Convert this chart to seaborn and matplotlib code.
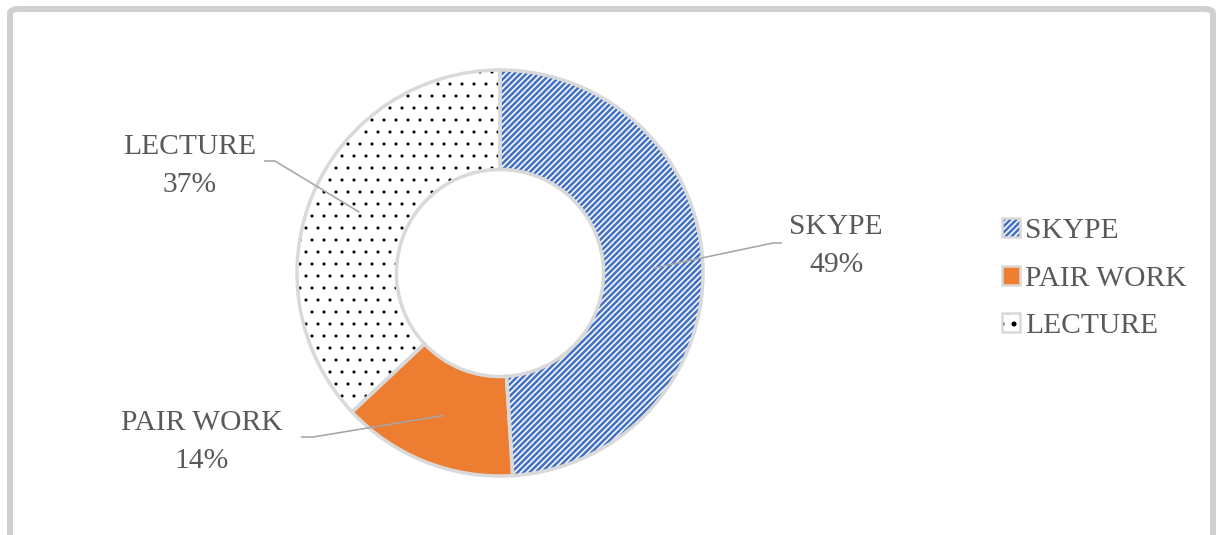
import numpy as np
import matplotlib
matplotlib.use("Agg")
import matplotlib.pyplot as plt
import seaborn as sns
from matplotlib.patches import Patch, FancyBboxPatch
from matplotlib.legend_handler import HandlerTuple

# ---- data ----
categories = ["SKYPE", "PAIR WORK", "LECTURE"]
values = [49, 14, 37]
pct_labels = ["49%", "14%", "37%"]

sns.set_theme(style="white")
plt.rcParams["font.family"] = ["Liberation Serif", "DejaVu Serif"]
plt.rcParams["hatch.linewidth"] = 2.6

DPI = 72
FS = 29.5
fig = plt.figure(figsize=(1219 / DPI, 535 / DPI), dpi=DPI)
fig.patch.set_facecolor("white")

# outer frame
frame = FancyBboxPatch((10 / 1219, -0.2), 1203 / 1219, (535 - 9) / 535 + 0.2,
                       boxstyle="round,pad=0,rounding_size=0.008",
                       transform=fig.transFigure, facecolor="none",
                       edgecolor="#d0d0d0", linewidth=6, clip_on=False)
fig.add_artist(frame)

R_PX = 203
cx, cy = 500, 273
ax = fig.add_axes([(cx - R_PX) / 1219, (535 - cy - R_PX) / 535,
                   2 * R_PX / 1219, 2 * R_PX / 535])

blue = "#4472C4"
orange = "#ED7D31"
edge_gray = "#d9d9d9"
text_col = "#595959"
line_col = "#a6a6a6"

WIDTH = 0.49
fills = [dict(facecolor="white", edgecolor=blue, hatch="////", hlw=2.6),
         dict(facecolor=orange, edgecolor=orange, hatch=None, hlw=1.0),
         dict(facecolor="white", edgecolor="black", hatch=".", hlw=0.6)]

wedges, _ = ax.pie(values, startangle=90, counterclock=False, radius=1.0,
                   wedgeprops=dict(width=WIDTH, linewidth=0))
for w, f in zip(wedges, fills):
    w.set_facecolor(f["facecolor"])
    w.set_edgecolor(f["edgecolor"])
    w.set_linewidth(0)
    if f["hatch"]:
        w.set_hatch(f["hatch"])
    if hasattr(w, "set_hatch_linewidth"):
        w.set_hatch_linewidth(f["hlw"])

# gray outlines on top
outl, _ = ax.pie(values, startangle=90, counterclock=False, radius=1.0,
                 wedgeprops=dict(width=WIDTH, facecolor="none",
                                 edgecolor=edge_gray, linewidth=3.5))

ax.set_xlim(-1, 1)
ax.set_ylim(-1, 1)
ax.set_aspect("equal")
ax.axis("off")

# labels with leader lines
def px2d(px, py):
    return ((px - cx) / R_PX, (cy - py) / R_PX)

label_pos = [px2d(836, 246), px2d(202, 442), px2d(190, 166)]
elbow = [px2d(773, 243), px2d(313, 437), px2d(275, 161)]
end = [px2d(782, 243), px2d(301, 437), px2d(264, 161)]

mid_r = 1 - WIDTH / 2
for w, cat, pl, lp, el, en in zip(wedges, categories, pct_labels, label_pos, elbow, end):
    ang = np.deg2rad((w.theta1 + w.theta2) / 2)
    ax_, ay_ = mid_r * np.cos(ang), mid_r * np.sin(ang)
    ax.plot([ax_, el[0], en[0]], [ay_, el[1], en[1]], color=line_col, lw=1.6,
            solid_capstyle="butt", clip_on=False, zorder=5)
    ax.text(lp[0], lp[1], f"{cat}\n{pl}", ha="center", va="center",
            fontsize=FS, color=text_col, linespacing=1.55, clip_on=False)

# legend
handles = []
for f in fills:
    inner = Patch(facecolor=f["facecolor"], edgecolor=f["edgecolor"],
                  hatch=f["hatch"], linewidth=0)
    if f["hatch"] and hasattr(inner, "set_hatch_linewidth"):
        inner.set_hatch_linewidth(f["hlw"])
    border = Patch(facecolor="none", edgecolor=edge_gray, linewidth=2.5)
    handles.append((inner, border))
leg = fig.legend(handles, categories, loc="center left",
                 bbox_to_anchor=(1002 / 1219, (535 - 278.5) / 535),
                 frameon=False, fontsize=FS, labelcolor=text_col,
                 handlelength=0.61, handleheight=0.61, handletextpad=0.18,
                 labelspacing=0.72, borderpad=0, borderaxespad=0,
                 handler_map={tuple: HandlerTuple(ndivide=1, pad=0)})

fig.savefig("out.png", dpi=DPI, facecolor="white")
